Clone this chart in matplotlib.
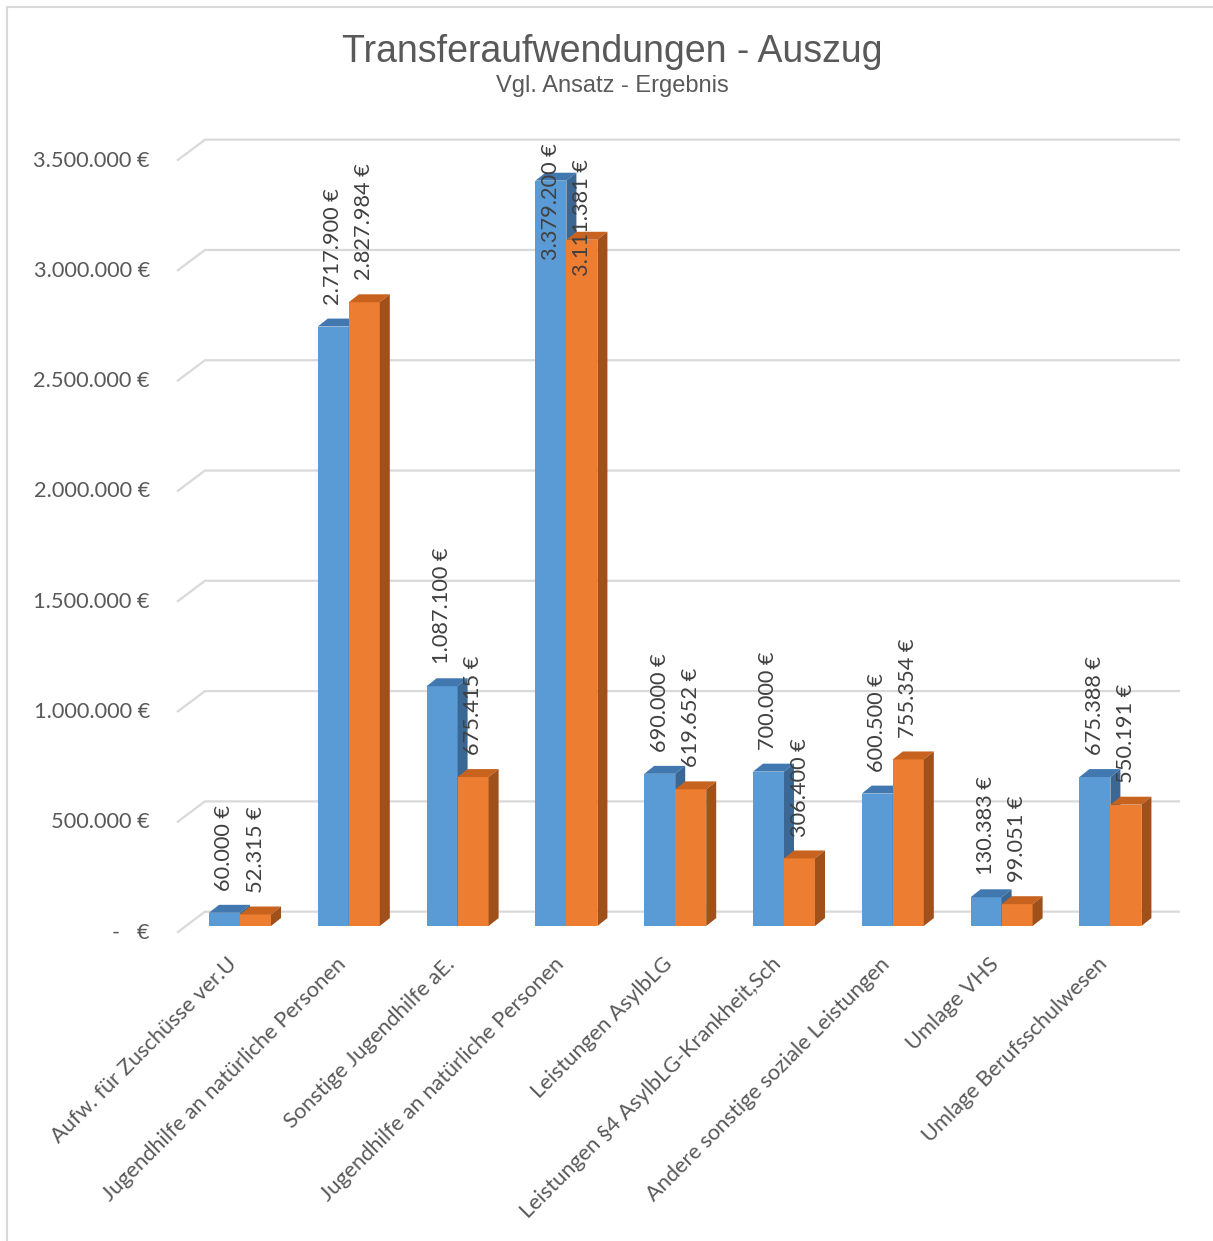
import matplotlib
matplotlib.use("Agg")
import matplotlib.pyplot as plt
from matplotlib.patches import Polygon, Rectangle

# ---------------- data ----------------
categories = [
    "Aufw. für Zuschüsse ver.U",
    "Jugendhilfe an natürliche Personen",
    "Sonstige Jugendhilfe aE.",
    "Jugendhilfe an natürliche Personen",
    "Leistungen AsylbLG",
    "Leistungen §4 AsylbLG-Krankheit,Sch",
    "Andere sonstige soziale Leistungen",
    "Umlage VHS",
    "Umlage Berufsschulwesen",
]
ansatz = [60000, 2717900, 1087100, 3379200, 690000, 700000, 600500, 130383, 675388]
ergebnis = [52315, 2827984, 675415, 3111381, 619652, 306400, 755354, 99051, 550191]
yticks = [0, 500000, 1000000, 1500000, 2000000, 2500000, 3000000, 3500000]

title = "Transferaufwendungen - Auszug"
subtitle = "Vgl. Ansatz - Ergebnis"

# ---------------- style ----------------
W, H, DPI = 1213, 1241, 100
TXT = "#595959"
LBL = "#404040"
GRID = "#D9D9D9"
BLUE = ("#5B9BD5", "#4178B0", "#3A6793")
ORANGE = ("#ED7D31", "#C7631F", "#A0501B")
BAR_W = 0.285
DEPTH_X = 0.092     # bar depth (x, in category units)
DEPTH_Y = 36000     # bar depth (y, in value units)
FRONT_DY = -30000   # floor front edge offset
BACK_DY = 65000     # back wall offset
FRONT_X = -0.579
BACK_X = -0.322
RIGHT_X = 8.64
LABEL_GAP = 63000
XLIM = (-0.65, 8.75)
YLIM = (-150000, 3750000)

FONT = ["Lato", "DejaVu Sans"]
plt.rcParams["font.family"] = FONT

fig = plt.figure(figsize=(W / DPI, H / DPI), dpi=DPI)
# pixel mapping of axes
px_per_x = 108.8
px_per_v = 0.00022057
x0_pix = 240
y0_pix = 926
left_pix = x0_pix + XLIM[0] * px_per_x
right_pix = x0_pix + XLIM[1] * px_per_x
bottom_pix = y0_pix - YLIM[0] * px_per_v
top_pix = y0_pix - YLIM[1] * px_per_v
ax = fig.add_axes([left_pix / W, 1 - bottom_pix / H,
                   (right_pix - left_pix) / W, (bottom_pix - top_pix) / H])
ax.set_xlim(*XLIM)
ax.set_ylim(*YLIM)
for s in ax.spines.values():
    s.set_visible(False)
ax.set_xticks([])
ax.set_yticks([])

# border of chart area
fig.patches.append(Rectangle((7 / W, -0.1), 1.2, (H - 7) / H + 0.1,
                             transform=fig.transFigure, fill=False,
                             edgecolor=GRID, linewidth=1.5))

# gridlines (floor diagonal + back wall)
for g in yticks:
    ax.plot([FRONT_X, BACK_X, RIGHT_X], [g + FRONT_DY, g + BACK_DY, g + BACK_DY],
            color=GRID, linewidth=1.6, zorder=1, solid_capstyle="butt")
    lab = "-   €" if g == 0 else f"{g:,.0f} €".replace(",", ".")
    ax.text(FRONT_X - 0.25, g + FRONT_DY, lab, ha="right", va="center",
            fontsize=15.7, color=TXT)


def draw_bars(xs, vals, cols, z):
    ax.bar(xs, vals, width=BAR_W, align="edge", color=cols[0],
           linewidth=0, zorder=z)
    for x, v in zip(xs, vals):
        top = [(x, v), (x + BAR_W, v), (x + BAR_W + DEPTH_X, v + DEPTH_Y),
               (x + DEPTH_X, v + DEPTH_Y)]
        side = [(x + BAR_W, 0), (x + BAR_W, v), (x + BAR_W + DEPTH_X, v + DEPTH_Y),
                (x + BAR_W + DEPTH_X, DEPTH_Y)]
        ax.add_patch(Polygon(top, closed=True, facecolor=cols[1], linewidth=0, zorder=z + 0.1))
        ax.add_patch(Polygon(side, closed=True, facecolor=cols[2], linewidth=0, zorder=z + 0.1))


idx = list(range(len(categories)))
draw_bars([i - BAR_W for i in idx], ansatz, BLUE, 2)
draw_bars([i for i in idx], ergebnis, ORANGE, 3)

# data labels
fig.canvas.draw()
renderer = fig.canvas.get_renderer()
limits_pix = [143, 159]  # top limit in pixels per series
for s, (vals, off) in enumerate([(ansatz, -BAR_W / 2), (ergebnis, BAR_W / 2)]):
    for i, v in enumerate(vals):
        lab = f"{v:,.0f} €".replace(",", ".")
        t = ax.text(i + off, v + DEPTH_Y + LABEL_GAP, lab, rotation=90,
                    ha="center", va="bottom", fontsize=15.7, color=LBL, zorder=10)
        bb = t.get_window_extent(renderer)
        top_y_pix = H - bb.y1
        if top_y_pix < limits_pix[s]:
            # move label so that its top stays inside the chart
            yv = (y0_pix - limits_pix[s]) / px_per_v
            t.set_y(yv)
            t.set_va("top")

# category labels
for i, c in enumerate(categories):
    ax.text(i - 0.055, -158000, c, rotation=45, rotation_mode="anchor",
            ha="right", va="center", fontsize=15.7, color=TXT)

fig.text(612 / W, 1 - 52 / H, title, ha="center", va="center",
         fontsize=27, color=TXT, family=["Liberation Sans", "DejaVu Sans"])
fig.text(612 / W, 1 - 86 / H, subtitle, ha="center", va="center",
         fontsize=17, color=TXT, family=["Liberation Sans", "DejaVu Sans"])

fig.savefig("out.png", dpi=DPI, facecolor="white")
